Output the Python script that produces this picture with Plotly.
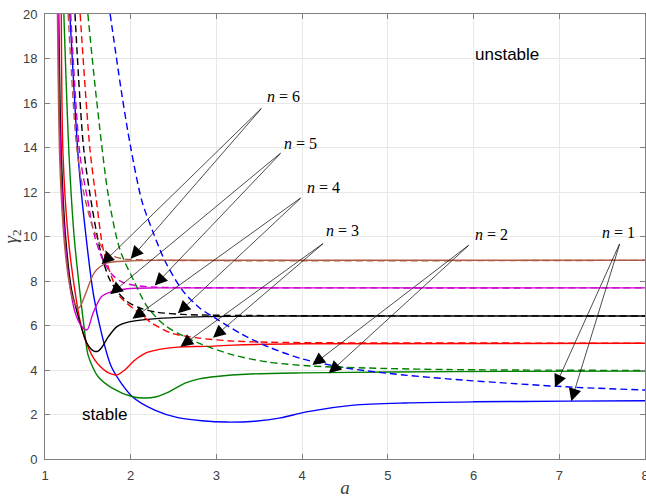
import plotly.graph_objects as go

# ---------------- data ----------------
# solid curves
a_s1 = [1.29, 1.385, 1.45, 1.565, 1.65, 1.78, 2.02, 2.28, 2.55, 2.83, 3.12, 3.45, 3.75, 4.05, 4.6, 5.2, 6.0, 7.09, 8.0]
g_s1 = [20, 13.7, 11.0, 7.4, 5.8, 4.1, 2.8, 2.2, 1.86, 1.72, 1.66, 1.7, 1.85, 2.12, 2.42, 2.52, 2.57, 2.6, 2.62]

a_s2 = [1.22, 1.28, 1.34, 1.41, 1.46, 1.50, 1.56, 1.62, 1.78, 2.02, 2.17, 2.3, 2.42, 2.53, 2.65, 2.8, 3.0, 3.4, 4.0, 5.0, 6.5, 8.0]
g_s2 = [20, 13.7, 10.0, 7.4, 5.8, 4.7, 4.1, 3.7, 3.2, 2.8, 2.74, 2.8, 2.97, 3.2, 3.43, 3.6, 3.71, 3.82, 3.87, 3.91, 3.94, 3.95]

a_s3 = [1.19, 1.21, 1.27, 1.355, 1.41, 1.47, 1.58, 1.66, 1.74, 1.84, 1.93, 2.05, 2.2, 2.55, 2.87, 3.2, 4.0, 8.0]
g_s3 = [20, 13.7, 10.0, 7.4, 6.2, 5.35, 4.45, 4.1, 3.87, 3.78, 4.0, 4.45, 4.8, 5.03, 5.06, 5.12, 5.18, 5.2]

a_s4 = [1.16, 1.19, 1.24, 1.31, 1.36, 1.41, 1.49, 1.57, 1.62, 1.66, 1.74, 1.84, 1.97, 2.37, 2.87, 4.0, 8.0]
g_s4 = [20, 13.7, 10.0, 7.6, 6.8, 6.1, 5.2, 4.85, 4.85, 5.0, 5.5, 5.95, 6.15, 6.33, 6.4, 6.43, 6.43]

a_s5 = [1.155, 1.18, 1.23, 1.29, 1.35, 1.42, 1.49, 1.56, 1.66, 1.76, 1.96, 2.3, 8.0]
g_s5 = [20, 13.7, 10.0, 7.8, 6.6, 6.0, 5.8, 6.55, 7.3, 7.5, 7.65, 7.69, 7.69]

a_s6 = [1.145, 1.17, 1.21, 1.26, 1.31, 1.36, 1.40, 1.44, 1.49, 1.58, 1.72, 1.96, 2.3, 8.0]
g_s6 = [20, 13.7, 10.5, 8.5, 7.4, 6.9, 6.8, 7.1, 7.6, 8.4, 8.8, 8.9, 8.93, 8.93]

# dashed curves
a_d1 = [1.76, 1.9, 2.0, 2.13, 2.26, 2.4, 2.6, 2.8, 3.0, 3.3, 3.6, 4.0, 4.5, 5.0, 5.7, 6.5, 7.2, 8.0]
g_d1 = [20, 16.3, 14.0, 11.6, 10.2, 8.9, 7.6, 6.8, 6.3, 5.6, 5.05, 4.5, 4.1, 3.85, 3.6, 3.38, 3.22, 3.1]

a_d2 = [1.50, 1.6, 1.74, 1.875, 2.05, 2.2, 2.4, 2.63, 2.83, 3.2, 3.6, 4.1, 4.75, 5.7, 8.0]
g_d2 = [20, 16.2, 11.8, 9.4, 7.9, 6.8, 6.0, 5.5, 5.15, 4.67, 4.36, 4.18, 4.09, 4.02, 3.98]

a_d3 = [1.41, 1.525, 1.6, 1.68, 1.79, 1.875, 2.05, 2.25, 2.48, 2.8, 3.2, 3.6, 4.5, 8.0]
g_d3 = [20, 13.9, 11.6, 9.4, 8.05, 7.3, 6.7, 6.1, 5.65, 5.43, 5.3, 5.25, 5.22, 5.21]

a_d4 = [1.35, 1.45, 1.55, 1.65, 1.75, 1.85, 1.95, 2.1, 2.3, 2.6, 3.0, 8.0]
g_d4 = [20, 14.0, 11.3, 9.3, 8.1, 7.5, 7.1, 6.8, 6.6, 6.5, 6.46, 6.43]

a_d5 = [1.30, 1.41, 1.5, 1.58, 1.67, 1.78, 1.9, 2.05, 2.3, 2.7, 8.0]
g_d5 = [20, 13.6, 11.6, 10.0, 9.0, 8.3, 7.95, 7.8, 7.72, 7.7, 7.69]

a_d6 = [1.27, 1.37, 1.45, 1.55, 1.65, 1.75, 1.9, 2.2, 8.0]
g_d6 = [20, 14.0, 12.0, 10.5, 9.6, 9.2, 9.0, 8.94, 8.93]

series_names = ["n = 1", "n = 2", "n = 3", "n = 4", "n = 5", "n = 6"]
colors = ["#0000ff", "#008000", "#ff0000", "#000000", "#d000d0", "#b05a45"]

solid = [(a_s1, g_s1), (a_s2, g_s2), (a_s3, g_s3), (a_s4, g_s4), (a_s5, g_s5), (a_s6, g_s6)]
dashed = [(a_d1, g_d1), (a_d2, g_d2), (a_d3, g_d3), (a_d4, g_d4), (a_d5, g_d5), (a_d6, g_d6)]

# label anchor (text) and arrow tail, and arrow targets (dashed, solid), in data units
label_pos = [(7.48, 10.16), (5.99, 10.11), (4.26, 10.25), (4.03, 12.22), (3.77, 14.16), (3.57, 16.27)]
tail_pos = [(7.71, 9.73), (5.96, 9.66), (4.26, 9.73), (4.0, 11.78), (3.765, 13.8), (3.54, 15.82)]
target_dashed = [(6.95, 3.23), (4.12, 4.22), (2.96, 5.45), (2.55, 6.55), (2.28, 7.8), (2.0, 9.0)]
target_solid = [(7.14, 2.6), (4.31, 3.85), (2.58, 5.05), (2.02, 6.3), (1.76, 7.4), (1.66, 8.75)]

region_text = ["stable", "unstable"]
region_pos = [(1.69, 2.0), (6.39, 18.2)]

x_ticks = [1, 2, 3, 4, 5, 6, 7, 8]
y_ticks = [0, 2, 4, 6, 8, 10, 12, 14, 16, 18, 20]

# ---------------- figure ----------------
fig = go.Figure()
for i in range(6):
    xs, ys = solid[i]
    fig.add_trace(go.Scatter(x=xs, y=ys, mode="lines", name=series_names[i],
                             line=dict(color=colors[i], width=1.4, shape="spline", smoothing=0.8),
                             showlegend=False))
for i in range(6):
    xs, ys = dashed[i]
    fig.add_trace(go.Scatter(x=xs, y=ys, mode="lines", name=series_names[i] + " (dashed)",
                             line=dict(color=colors[i], width=1.4, dash="7px,4px", shape="spline", smoothing=0.8),
                             showlegend=False))

ann = []
for i in range(6):
    for tgt in (target_dashed[i], target_solid[i]):
        ann.append(dict(x=tgt[0], y=tgt[1], xref="x", yref="y",
                        ax=tail_pos[i][0], ay=tail_pos[i][1], axref="x", ayref="y",
                        showarrow=True, arrowhead=2, arrowsize=3.6, arrowwidth=0.7,
                        arrowcolor="#000000", text=""))
    ann.append(dict(x=label_pos[i][0], y=label_pos[i][1], xref="x", yref="y",
                    text="<i>n</i> = " + series_names[i][-1], showarrow=False,
                    xanchor="left", yanchor="middle",
                    font=dict(family="Liberation Serif, serif", size=16, color="#000000")))
for t, p in zip(region_text, region_pos):
    ann.append(dict(x=p[0], y=p[1], xref="x", yref="y", text=t, showarrow=False,
                    xanchor="center", yanchor="middle",
                    font=dict(family="Liberation Sans, Arial, sans-serif", size=17, color="#000000")))

axis_common = dict(showline=True, linecolor="#808080", linewidth=1, mirror="ticks",
                   ticks="inside", ticklen=5, tickcolor="#808080",
                   showgrid=True, gridcolor="#e8e8e8", gridwidth=1, zeroline=False,
                   automargin=False, ticklabeloverflow="allow", ticklabelstandoff=4,
                   tickfont=dict(family="Liberation Sans, Arial, sans-serif", size=13, color="#404040"))

fig.update_layout(
    width=646, height=498,
    margin=dict(l=45, r=1, t=14, b=39, autoexpand=False),
    paper_bgcolor="white", plot_bgcolor="white",
    annotations=ann,
    xaxis=dict(range=[1, 8], tickvals=x_ticks, ticktext=[str(v) for v in x_ticks],
               title=dict(text="<i>a</i>", standoff=4,
                          font=dict(family="Liberation Serif, serif", size=19, color="#404040")),
               **axis_common),
    yaxis=dict(range=[0, 20], tickvals=y_ticks, ticktext=[str(v) for v in y_ticks],
               title=dict(text="<i>γ</i><sub>2</sub>", standoff=4,
                          font=dict(family="Liberation Serif, serif", size=19, color="#404040")),
               **axis_common),
)

fig.write_html("out.html")
